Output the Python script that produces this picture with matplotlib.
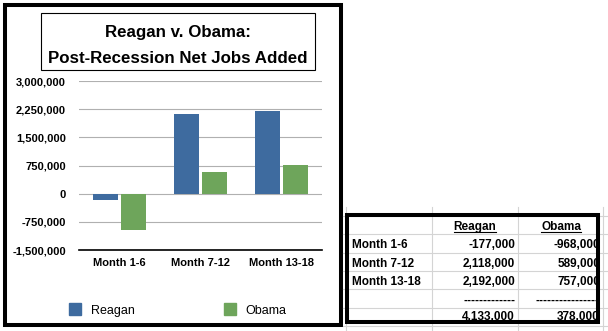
import matplotlib.pyplot as plt
import numpy as np
from matplotlib.patches import Rectangle
from matplotlib.ticker import FuncFormatter

plt.rcParams['font.family'] = ['Liberation Sans', 'DejaVu Sans']

# net jobs added after each recession, by six-month period
periods = ['Month 1-6', 'Month 7-12', 'Month 13-18']
reagan = [-177000, 2118000, 2192000]
obama = [-968000, 589000, 757000]
series_names = ['Reagan', 'Obama']
y_ticks = [-1500000, -750000, 0, 750000, 1500000, 2250000, 3000000]

blue = '#3e6b9f'
green = '#6ea55b'

W, H = 608, 331
fig = plt.figure(figsize=(W / 100, H / 100), dpi=100)


def fx(px):
    return px / W


def fy(py):
    return 1 - py / H


# bar chart
ax = fig.add_axes([fx(79), fy(250), fx(322) - fx(79), fy(81) - fy(250)])
x = np.arange(len(periods))
ax.bar(x - 0.173, reagan, 0.32, color=blue, zorder=3)
ax.bar(x + 0.173, obama, 0.32, color=green, zorder=3)
ax.set_xlim(-0.5, 2.5)
ax.set_ylim(y_ticks[0], y_ticks[-1])
ax.set_yticks(y_ticks)
ax.yaxis.set_major_formatter(FuncFormatter(lambda v, p: f'{v:,.0f}'))
ax.set_xticks(x)
ax.set_xticklabels(periods)
ax.tick_params(length=0, labelsize=8)
ax.tick_params(axis='y', pad=9.4)
ax.tick_params(axis='x', pad=5.8)
for lab in ax.get_xticklabels() + ax.get_yticklabels():
    lab.set_fontweight('bold')
ax.grid(axis='y', color='#b0b0b0', lw=0.8)
ax.set_axisbelow(True)
for s in ['top', 'right', 'left']:
    ax.spines[s].set_visible(False)
ax.spines['bottom'].set_color('black')
ax.spines['bottom'].set_linewidth(1.2)

# overlay in pixel coordinates for frames, title, legend and the table
ov = fig.add_axes([0, 0, 1, 1])
ov.set_xlim(0, W)
ov.set_ylim(H, 0)
ov.axis('off')
ov.patch.set_alpha(0)

ov.add_patch(Rectangle((5, 5), 336, 320, fill=False, lw=2.9, ec='black'))
ov.add_patch(Rectangle((41, 13), 274, 57, fill=False, lw=0.8, ec='black'))
ov.text(178, 36.5, 'Reagan v. Obama:', ha='center', va='baseline',
        fontsize=12.2, fontweight='bold')
ov.text(178, 63, 'Post-Recession Net Jobs Added', ha='center', va='baseline',
        fontsize=12.2, fontweight='bold')

# legend
for (lx, tx), name, col in zip([(69, 91), (224, 245)], series_names, [blue, green]):
    ov.add_patch(Rectangle((lx, 303), 12, 12, color=col))
    ov.text(tx, 314, name, ha='left', va='baseline', fontsize=9)

# spreadsheet table
grid_col = '#d4d4d4'
for gx in [346, 432, 518, 603]:
    ov.plot([gx, gx], [207, H], color=grid_col, lw=0.8)
for gy in [216, 234.3, 252.7, 271, 289.3, 307.7, 326]:
    ov.plot([343, W], [gy, gy], color=grid_col, lw=0.8)

tfs = 8.5
baselines = [248.3, 266.7, 285]
heads = []
for cx, name in zip([475, 561], series_names):
    heads.append(ov.text(cx, 230, name, ha='center', va='baseline',
                         fontsize=tfs, fontweight='bold'))
for by, per, r, o in zip(baselines, periods, reagan, obama):
    ov.text(352, by, per, ha='left', va='baseline', fontsize=tfs, fontweight='bold')
    ov.text(515, by, f'{r:,}', ha='right', va='baseline', fontsize=tfs, fontweight='bold')
    ov.text(600, by, f'{o:,}', ha='right', va='baseline', fontsize=tfs, fontweight='bold')
ov.text(515, 303.5, '-' * 13, ha='right', va='baseline', fontsize=tfs, fontweight='bold')
ov.text(600, 303.5, '-' * 16, ha='right', va='baseline', fontsize=tfs, fontweight='bold')
ov.text(515, 320.5, f'{sum(reagan):,}', ha='right', va='baseline', fontsize=tfs, fontweight='bold')
ov.text(600, 320.5, f'{sum(obama):,}', ha='right', va='baseline', fontsize=tfs, fontweight='bold')

# underline the column headers
fig.canvas.draw()
inv = ov.transData.inverted()
for t in heads:
    bb = t.get_window_extent()
    (x0, _), (x1, _) = inv.transform([(bb.x0, bb.y0), (bb.x1, bb.y0)])
    ov.plot([x0, x1], [232, 232], color='black', lw=0.8)

ov.add_patch(Rectangle((347, 215), 251, 107, fill=False, lw=2.9, ec='black', zorder=5))

fig.savefig('out.png', dpi=100)
